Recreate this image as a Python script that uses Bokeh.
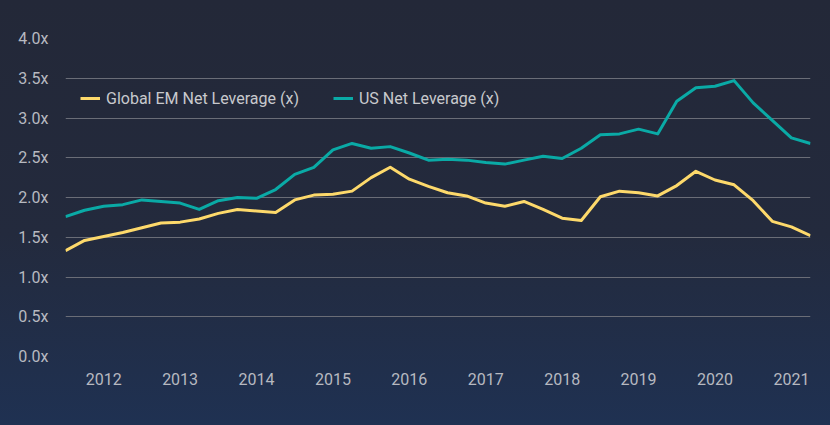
from bokeh.plotting import figure
from bokeh.models import FixedTicker, PrintfTickFormatter, Legend, LegendItem, Range1d
from bokeh.embed import file_html
from bokeh.resources import INLINE

# Quarterly observations, mid-2011 to Q2 2021
start_year = 2011.5
em_net_leverage = [1.33, 1.46, 1.51, 1.56, 1.62, 1.68, 1.69, 1.73, 1.80, 1.85,
                   1.83, 1.81, 1.97, 2.03, 2.04, 2.08, 2.25, 2.38, 2.23, 2.14,
                   2.06, 2.02, 1.93, 1.89, 1.95, 1.85, 1.74, 1.71, 2.01, 2.08,
                   2.06, 2.02, 2.15, 2.33, 2.22, 2.16, 1.96, 1.70, 1.63, 1.52]
us_net_leverage = [1.76, 1.84, 1.89, 1.91, 1.97, 1.95, 1.93, 1.85, 1.96, 2.00,
                   1.99, 2.10, 2.29, 2.38, 2.60, 2.68, 2.62, 2.64, 2.56, 2.47,
                   2.48, 2.47, 2.44, 2.42, 2.47, 2.52, 2.49, 2.62, 2.79, 2.80,
                   2.86, 2.80, 3.21, 3.38, 3.40, 3.47, 3.19, 2.97, 2.75, 2.68]
x_dates = [start_year + 0.25 * i for i in range(len(em_net_leverage))]
year_ticks = [2012, 2013, 2014, 2015, 2016, 2017, 2018, 2019, 2020, 2021]
y_ticks = [0.0, 0.5, 1.0, 1.5, 2.0, 2.5, 3.0, 3.5, 4.0]
series_labels = ["Global EM Net Leverage (x)", "US Net Leverage (x)"]

FONT = "Roboto"

p = figure(width=830, height=425, output_backend="svg", toolbar_location=None,
           x_range=Range1d(x_dates[0], x_dates[-1]), y_range=Range1d(0, 4.0),
           min_border_left=65, min_border_right=20, min_border_top=38, min_border_bottom=69)

p.background_fill_color = None
p.border_fill_color = None
p.outline_line_color = None
p.styles = {"background": "linear-gradient(180deg, #232838 0%, #232a3d 55%, #1f3152 100%)"}

l1 = p.line(x_dates, em_net_leverage, line_color="#fdd96b", line_width=3, line_join="round")
l2 = p.line(x_dates, us_net_leverage, line_color="#0aaaa6", line_width=3, line_join="round")

p.xgrid.grid_line_color = None
p.ygrid.ticker = FixedTicker(ticks=y_ticks)
p.ygrid.grid_line_color = "#6a6d77"
p.ygrid.grid_line_width = 1

p.xaxis.ticker = FixedTicker(ticks=year_ticks)
p.xaxis.formatter = PrintfTickFormatter(format="%d")
p.yaxis.ticker = FixedTicker(ticks=y_ticks)
p.yaxis.formatter = PrintfTickFormatter(format="%.1fx")

for ax in (p.xaxis, p.yaxis):
    ax.axis_line_color = None
    ax.major_tick_line_color = None
    ax.minor_tick_line_color = None
    ax.major_label_text_font = FONT
    ax.major_label_text_font_size = "16px"
    ax.major_label_text_color = "#b7b9c0"
p.xaxis.major_label_standoff = 10
p.yaxis.major_label_standoff = 11

legend = Legend(items=[LegendItem(label=series_labels[0], renderers=[l1]),
                       LegendItem(label=series_labels[1], renderers=[l2])],
                orientation="horizontal", location=(15, 248),
                label_text_font=FONT, label_text_font_size="16px", label_text_color="#c8c9cd",
                glyph_width=20, glyph_height=20, label_height=20, label_standoff=6,
                spacing=34, padding=0, margin=0,
                border_line_color=None, background_fill_alpha=0)
p.add_layout(legend, "center")

open("out.html", "w").write(file_html(p, INLINE))
